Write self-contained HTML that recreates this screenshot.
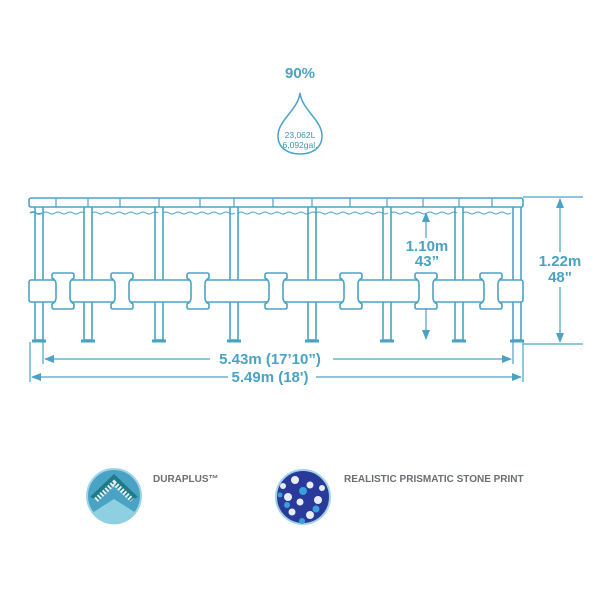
<!DOCTYPE html>
<html><head><style>body{margin:0;background:#fff}svg{display:block}</style></head><body>
<svg width="600" height="600" viewBox="0 0 600 600" xmlns="http://www.w3.org/2000/svg" font-family="Liberation Sans, sans-serif">
<defs>
<marker id="ar" markerWidth="10" markerHeight="8" refX="9" refY="4" orient="auto" markerUnits="userSpaceOnUse"><path d="M0,0 L10,4 L0,8 Z" fill="#4aa3c4"/></marker>
</defs>
<text x="300" y="78" text-anchor="middle" font-size="15" font-weight="bold" fill="#4aa3c4">90%</text>
<path d="M300,93 C302,110 322,120 322,136 C322,148 312,154 300,154 C288,154 278,148 278,136 C278,120 298,110 300,93 Z" fill="none" stroke="#4aa3c4" stroke-width="1.5"/>
<text x="300" y="138" text-anchor="middle" font-size="8.5" fill="#3a93b4">23,062L</text>
<text x="300" y="148" text-anchor="middle" font-size="8.5" fill="#3a93b4">6,092gal.</text>
<g fill="#fff" stroke="#4aa3c4" stroke-width="1.6">
<rect x="35" y="205" width="8" height="135"/><rect x="84" y="205" width="8" height="135"/><rect x="155" y="205" width="8" height="135"/><rect x="230" y="205" width="8" height="135"/><rect x="308" y="205" width="8" height="135"/><rect x="383" y="205" width="8" height="135"/><rect x="455" y="205" width="8" height="135"/><rect x="513" y="205" width="8" height="135"/>
<path d="M30,213 Q33,211 36,213 T42,213" fill="none"/>
<path d="M43,213 q3,-2 6,0 t6,0 t6,0 t6,0 t6,0 t6,0 t6,0 M92,213 q3,-2 6,0 t6,0 t6,0 t6,0 t6,0 t6,0 t6,0 t6,0 t6,0 t6,0 t6,0 M163,213 q3,-2 6,0 t6,0 t6,0 t6,0 t6,0 t6,0 t6,0 t6,0 t6,0 t6,0 t6,0 t6,0 M238,213 q3,-2 6,0 t6,0 t6,0 t6,0 t6,0 t6,0 t6,0 t6,0 t6,0 t6,0 t6,0 t6,0 t6,0 M316,213 q3,-2 6,0 t6,0 t6,0 t6,0 t6,0 t6,0 t6,0 t6,0 t6,0 t6,0 t6,0 t6,0 M391,213 q3,-2 6,0 t6,0 t6,0 t6,0 t6,0 t6,0 t6,0 t6,0 t6,0 t6,0 t6,0 M463,213 q3,-2 6,0 t6,0 t6,0 t6,0 t6,0 t6,0 t6,0 t6,0" fill="none" stroke-width="1"/>
<rect x="29" y="198" width="494" height="9" rx="2"/>
<path d="M56,198v9M88,198v9M120,198v9M159,198v9M200,198v9M234,198v9M273,198v9M312,198v9M350,198v9M387,198v9M423,198v9M459,198v9M492,198v9" stroke-width="1.2"/>
<rect x="29" y="280" width="494" height="22" rx="2"/>
<g id="h">
<path d="M52,275 q0,-2 2,-2 h18 q2,0 2,2 v3 q-4,2 -4,6 v14 q0,4 4,6 v3 q0,2 -2,2 h-18 q-2,0 -2,-2 v-3 q4,-2 4,-6 v-14 q0,-4 -4,-6z"/>
</g>
<use href="#h" x="59"/><use href="#h" x="135"/><use href="#h" x="213"/><use href="#h" x="288"/><use href="#h" x="363"/><use href="#h" x="428"/>
<path d="M32,341h14M81,341h14M152,341h14M227,341h14M305,341h14M380,341h14M452,341h14M510,341h14" stroke-width="3"/>
</g>
<g stroke="#4aa3c4" stroke-width="1.2" fill="none">
<path d="M523,197h60M523,344h60"/>
<path d="M560,252V199" marker-end="url(#ar)"/><path d="M560,287V342" marker-end="url(#ar)"/>
<path d="M426,238V213" marker-end="url(#ar)"/><path d="M426,308V339" marker-end="url(#ar)"/>
<path d="M43,342v22M513,342v22M30,342v40M523,342v40"/>
<path d="M210,359H45" marker-end="url(#ar)"/><path d="M333,359H511" marker-end="url(#ar)"/>
<path d="M228,377H32" marker-end="url(#ar)"/><path d="M316,377H521" marker-end="url(#ar)"/>
</g>
<g fill="#4aa3c4" font-weight="bold" font-size="15" text-anchor="middle">
<text x="560" y="266">1.22m</text><text x="560" y="282">48"</text>
<text x="427" y="251">1.10m</text><text x="427" y="266">43”</text>
<text x="270" y="364">5.43m (17’10”)</text>
<text x="270" y="382">5.49m (18')</text>
</g>
<circle cx="114" cy="496" r="27" fill="#4aa3c4" stroke="#9fd4e6" stroke-width="2"/>
<path d="M92,513 L114,499 L136,513 A27,27 0 0 1 92,513Z" fill="#8ed0e2"/>
<path d="M90,497 L114,474 L138,497 L130,500 L114,484 L98,500Z" fill="#1e7c88"/>
<path d="M96,500 L114,483 L132,500" stroke="#e8eef0" stroke-width="5" fill="none" stroke-dasharray="2 1.5"/>
<circle cx="303" cy="497" r="27" fill="#2a3a9a" stroke="#9fd4e6" stroke-width="2"/>
<g fill="#e6eef4"><circle cx="295" cy="480" r="4"/><circle cx="310" cy="485" r="3.5"/><circle cx="288" cy="497" r="4"/><circle cx="300" cy="502" r="3.5"/><circle cx="318" cy="500" r="4"/><circle cx="292" cy="512" r="3.5"/><circle cx="310" cy="515" r="4"/><circle cx="322" cy="488" r="3"/><circle cx="283" cy="486" r="3"/></g>
<g fill="#3aa0dc"><circle cx="303" cy="491" r="4"/><circle cx="287" cy="505" r="3"/><circle cx="316" cy="509" r="3.5"/><circle cx="302" cy="521" r="3"/><circle cx="280" cy="495" r="2.5"/></g>
<g fill="#6a6f73" font-weight="bold" font-size="10">
<text x="153" y="482">DURAPLUS™</text>
<text x="344" y="482">REALISTIC PRISMATIC STONE PRINT</text>
</g>
</svg>
</body></html>
